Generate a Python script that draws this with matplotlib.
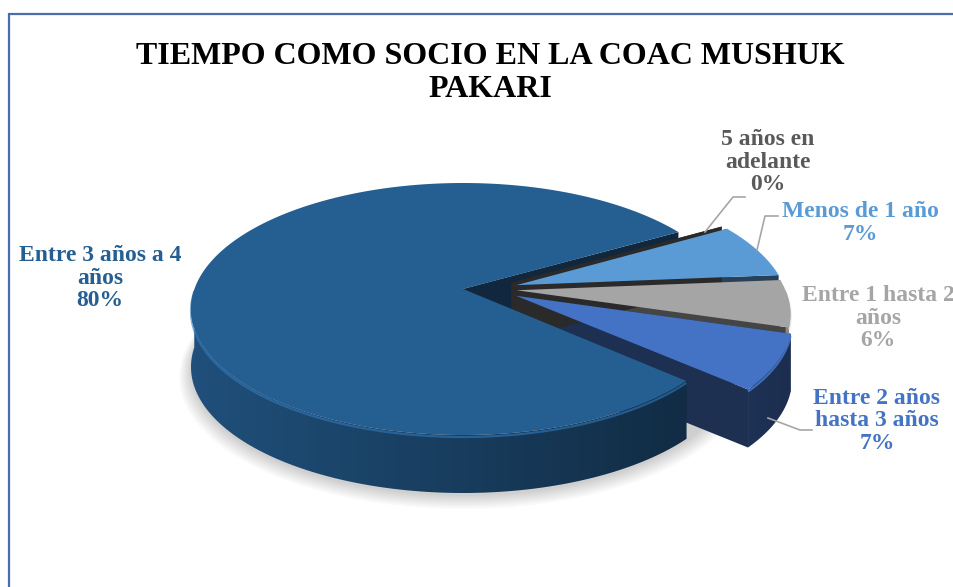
import numpy as np
import matplotlib.pyplot as plt
from matplotlib.patches import Polygon
from matplotlib.colors import LinearSegmentedColormap, to_rgb

# datos del grafico
categories = ['Menos de 1 año', 'Entre 1 hasta 2\naños', 'Entre 2 años\nhasta 3 años',
              'Entre 3 años a 4\naños', '5 años en\nadelante']
values = [7, 6, 7, 80, 0]
colors = ['#5B9BD5', '#A5A5A5', '#4472C4', '#255E91', '#636363']
label_colors = ['#5B9BD5', '#A5A5A5', '#4472C4', '#255E91', '#595959']
title = 'TIEMPO COMO SOCIO EN LA COAC MUSHUK\nPAKARI'

# sombreado de las paredes (izquierda -> derecha)
wall_shades = [(0.85, 0.62, 0.38), (1.0, 0.92, 0.82), (0.85, 0.62, 0.4),
               (0.85, 0.62, 0.38), (0.6, 0.5, 0.4)]

# posiciones de las etiquetas (pixeles)
label_pos = [(860, 223), (878, 318), (877, 421), (100, 278), (768, 162)]
leaders = {0: [(757, 250), (765, 216), (778, 216)],
           2: [(768, 418), (800, 430), (812, 430)],
           4: [(705, 232), (733, 197), (745, 197)]}

# geometria del pastel 3D
EX, EY = 463, 309
A, B = 272, 126
K = 0.159
DEPTH = 58
START = 30
EXPLODE = [0.21, 0.2, 0.225, 0.0, 0.21]
EXPLODE_V = 0.5   # la separacion casi horizontal como en Excel


def proj(u, v, dz=0.0):
    d = 1 + K * v
    x = EX + A * u * np.sqrt(1 - K * K) / d
    y = EY - B * (v + K) / d + dz
    return x, y


def shade(c, f):
    r, g, b = to_rgb(c)
    return (min(r * f, 1), min(g * f, 1), min(b * f, 1))


fig = plt.figure(figsize=(9.54, 5.87), dpi=100)
ax = fig.add_axes([0, 0, 1, 1])
ax.set_xlim(0, 954)
ax.set_ylim(587, 0)
ax.axis('off')

total = sum(values)
bounds = [START]
for v in values:
    bounds.append(bounds[-1] - 360 * v / total)

slices = []
for i, v in enumerate(values):
    ts, te = bounds[i], bounds[i + 1]
    mid = np.radians((ts + te) / 2)
    ox = EXPLODE[i] * np.cos(mid)
    oy = EXPLODE[i] * np.sin(mid) * EXPLODE_V
    t = np.radians(np.linspace(ts, te, max(2, int(abs(ts - te) * 2) + 2)))
    slices.append((ox, oy, t))

# sombra
tt = np.linspace(0, 2 * np.pi, 200)
for s in range(8):
    f = 1.0 + 0.006 * s
    xs, ys = proj(f * np.cos(tt), f * np.sin(tt), DEPTH + 3 + s * 0.8)
    ax.add_patch(Polygon(np.column_stack([xs, ys]), closed=True, fc='#000000',
                         ec='none', alpha=0.025, zorder=1))

# caras radiales
for i, (ox, oy, t) in enumerate(slices):
    for ang in (t[0], t[-1]):
        cx0, cy0 = proj(ox, oy)
        ex0, ey0 = proj(ox + np.cos(ang), oy + np.sin(ang))
        quad = [(cx0, cy0), (ex0, ey0), (ex0, ey0 + DEPTH), (cx0, cy0 + DEPTH)]
        ax.add_patch(Polygon(quad, closed=True, fc=shade(colors[i], 0.42),
                             ec='none', zorder=2))

# paredes exteriores con degradado
grad = np.linspace(0, 1, 256).reshape(1, -1)
for i, (ox, oy, t) in enumerate(slices):
    if values[i] == 0:
        continue
    front = np.sin(t) < 0
    if not front.any():
        continue
    idx = np.where(front)[0]
    segs = np.split(idx, np.where(np.diff(idx) != 1)[0] + 1)
    cmap = LinearSegmentedColormap.from_list(
        'w%d' % i, [shade(colors[i], f) for f in wall_shades[i]])
    for seg in segs:
        tw = t[seg]
        xt, yt = proj(ox + np.cos(tw), oy + np.sin(tw))
        pts = np.column_stack([np.r_[xt, xt[::-1]], np.r_[yt, yt[::-1] + DEPTH]])
        poly = Polygon(pts, closed=True, fc='none', ec='none', zorder=3)
        ax.add_patch(poly)
        im = ax.imshow(grad, cmap=cmap, aspect='auto', extent=[185, 800, 587, 0],
                       zorder=3)
        im.set_clip_path(poly)
        # brillo del bisel
        ax.plot(xt, yt + 2, color=shade(colors[i], 1.3),
                lw=1.6, alpha=0.6, zorder=3.5, solid_capstyle='butt')

# caras superiores
for i, (ox, oy, t) in enumerate(slices):
    if values[i] == 0:
        continue
    xt, yt = proj(ox + np.cos(t), oy + np.sin(t))
    cx0, cy0 = proj(ox, oy)
    pts = np.column_stack([np.r_[cx0, xt], np.r_[cy0, yt]])
    ax.add_patch(Polygon(pts, closed=True, fc=colors[i], ec='none', zorder=4))

# etiquetas
for i, v in enumerate(values):
    txt = '%s\n%d%%' % (categories[i], round(100 * v / total))
    ax.text(label_pos[i][0], label_pos[i][1], txt, ha='center', va='center',
            fontsize=17, fontweight='bold', family='Liberation Serif',
            color=label_colors[i], linespacing=1.1, zorder=6)

for i, pts in leaders.items():
    xs, ys = zip(*pts)
    ax.plot(xs, ys, color='#A6A6A6', lw=1.2, zorder=5)

ax.text(490, 73, title, ha='center', va='center', fontsize=23, fontweight='bold',
        family='Liberation Serif', color='black', linespacing=1.2)

# marco del grafico
ax.plot([9, 9, 954], [587, 14, 14], color='#4A6EAB', lw=1.6, clip_on=False,
        solid_joinstyle='miter')

fig.savefig('out.png', dpi=100)
